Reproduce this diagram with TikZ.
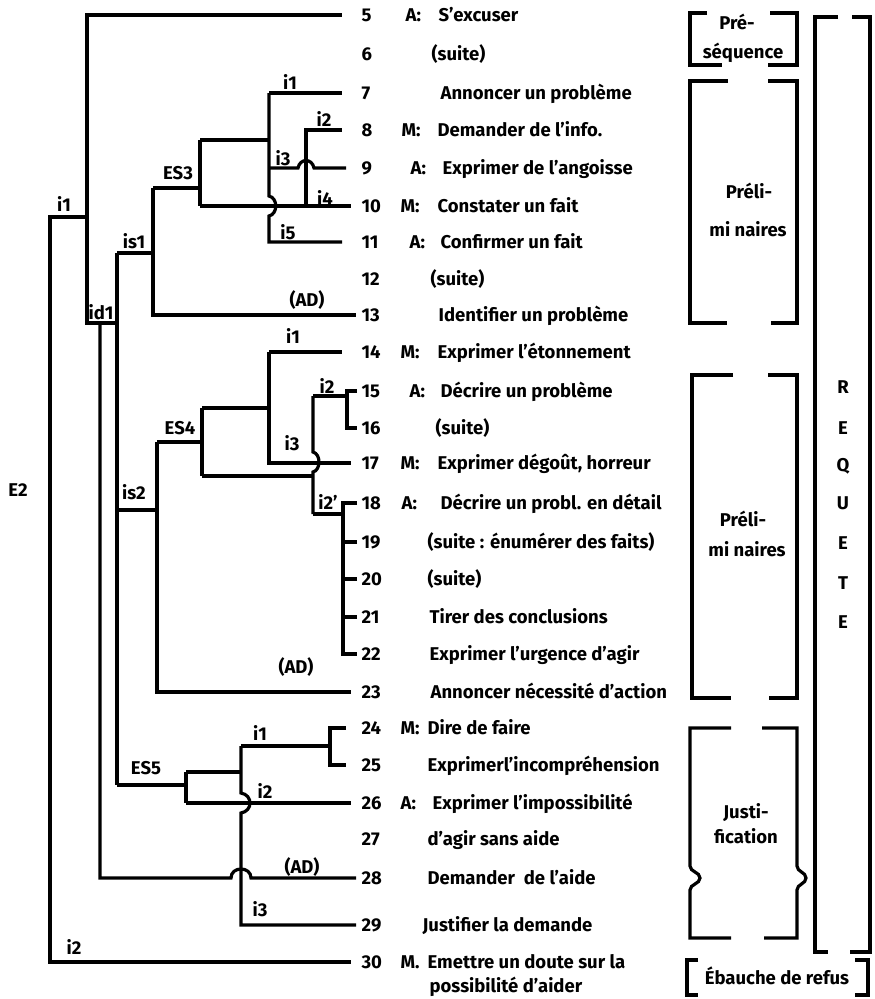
\documentclass[tikz,border=0pt]{standalone}
\usepackage{fontspec}
\setmainfont{Fira Sans}
\usepackage{tikz}

\tikzset{
  txt/.style={anchor=west, inner sep=0pt, text height=12.5pt, text depth=0pt,
    font=\bfseries\fontsize{18.5}{20}\selectfont},
  lab/.style={inner sep=0pt, text height=12.5pt, text depth=0pt,
    font=\bfseries\fontsize{18.5}{20}\selectfont},
  far/.style={shorten >=18pt},
  mid/.style={shorten >=9pt},
  leaf/.style={shorten >=4pt},
  tick/.style={shorten <=3pt, shorten >=3pt},
}

\begin{document}
\begin{tikzpicture}[x=1pt, y=-1pt, line width=3.2pt]
\useasboundingbox (0,0) rectangle (875,999);

% Numeros des tours
\node[txt] (n5) at (360,15) {5};
\node[txt] (n6) at (360,54) {6};
\node[txt] (n7) at (360,93) {7};
\node[txt] (n8) at (360,130) {8};
\node[txt] (n9) at (360,168) {9};
\node[txt] (n10) at (360,206) {10};
\node[txt] (n11) at (360,242) {11};
\node[txt] (n12) at (360,279) {12};
\node[txt] (n13) at (360,315) {13};
\node[txt] (n14) at (360,352) {14};
\node[txt] (n15) at (360,391) {15};
\node[txt] (n16) at (360,428) {16};
\node[txt] (n17) at (360,463) {17};
\node[txt] (n18) at (360,503) {18};
\node[txt] (n19) at (360,542) {19};
\node[txt] (n20) at (360,579) {20};
\node[txt] (n21) at (360,617) {21};
\node[txt] (n22) at (360,654) {22};
\node[txt] (n23) at (360,692) {23};
\node[txt] (n24) at (360,728) {24};
\node[txt] (n25) at (360,765) {25};
\node[txt] (n26) at (360,803) {26};
\node[txt] (n27) at (360,839) {27};
\node[txt] (n28) at (360,878) {28};
\node[txt] (n29) at (360,925) {29};
\node[txt] (n30) at (360,962) {30};

% Locuteurs
\node[txt] (s5) at (404,15) {A:};
\node[txt] (s8) at (400,130) {M:};
\node[txt] (s9) at (409,168) {A:};
\node[txt] (s10) at (399,206) {M:};
\node[txt] (s11) at (408,242) {A:};
\node[txt] (s14) at (399,352) {M:};
\node[txt] (s15) at (408,391) {A:};
\node[txt] (s17) at (399,463) {M:};
\node[txt] (s18) at (400,503) {A:};
\node[txt] (s24) at (399,728) {M:};
\node[txt] (s26) at (399,803) {A:};
\node[txt] (s30) at (399,962) {M.};

% Actes
\node[txt] (t5) at (437,15) {S'excuser};
\node[txt] (t6) at (430,54) {(suite)};
\node[txt] (t7) at (439,93) {Annoncer un problème};
\node[txt] (t8) at (436,130) {Demander de l'info.};
\node[txt] (t9) at (441,168) {Exprimer de l'angoisse};
\node[txt] (t10) at (436,206) {Constater un fait};
\node[txt] (t11) at (439,242) {Confirmer un fait};
\node[txt] (t12) at (429,279) {(suite)};
\node[txt] (t13) at (437,315) {Identifier un problème};
\node[txt] (t14) at (436,352) {Exprimer l'étonnement};
\node[txt] (t15) at (439,391) {Décrire un problème};
\node[txt] (t16) at (434,428) {(suite)};
\node[txt] (t17) at (436,463) {Exprimer dégoût, horreur};
\node[txt] (t18) at (439,503) {Décrire un probl. en détail};
\node[txt] (t19) at (426,542) {(suite : énumérer des faits)};
\node[txt] (t20) at (426,579) {(suite)};
\node[txt] (t21) at (428,617) {Tirer des conclusions};
\node[txt] (t22) at (428,654) {Exprimer l'urgence d'agir};
\node[txt] (t23) at (429,692) {Annoncer nécessité d'action};
\node[txt] (t24) at (426,728) {Dire de faire};
\node[txt] (t25) at (426,765) {Exprimerl'incompréhension};
\node[txt] (t26) at (431,803) {Exprimer l'impossibilité};
\node[txt] (t27) at (426,839) {d'agir sans aide};
\node[txt] (t28) at (426,878) {Demander\ \ de l'aide};
\node[txt] (t29) at (421,925) {Justifier la demande};
\node[txt] (t30) at (426,962) {Emettre un doute sur la};
\node[txt] (t30b) at (428,986) {possibilité d'aider};

% E2
\coordinate (e2) at (50,217);
\coordinate (r1) at (87,217);
\draw[mid] (r1) -- (e2) |- (n30);

% i1 / id1
\coordinate (id1) at (87,323);
\coordinate (d1) at (117,323);
\coordinate (d2) at (100,323);
\draw[far] (d1) -- (id1) |- (n5);
\coordinate (is1) at (117,253);
\coordinate (is2) at (117,510);
\coordinate (es5) at (117,785);
\draw (is1) -- (es5);
\draw[leaf] (d2) |- (231,878) .. controls (231,866) and (251,866) .. (251,878) -- (n28);

% is1 / ES3
\coordinate (k1) at (153,253);
\coordinate (k2) at (153,188);
\coordinate (es3) at (200,188);
\draw (is1) -- (k1);
\draw[leaf] (k2) |- (n13);
\draw (k2) -- (es3);
\coordinate (e3t) at (200,140);
\coordinate (e3b) at (200,206);
\draw (e3t) -- (e3b);
\draw[mid] (e3b) -- (n10);
\coordinate (g3) at (269,93);
\coordinate (g3m) at (269,168);
\draw (e3t) -- (e3t -| g3);
\draw[far] (g3) -- (n7);
\draw[far] (g3) -- (269,196) .. controls (278,198) and (278,214) .. (269,216) |- (n11);
\draw[shorten >=14pt] (g3m) -- (298,168) .. controls (300,158) and (312,158) .. (314,168) -- (n9);
\coordinate (h3) at (306,206);
\draw[far] (h3) |- (n8);

% is2 / ES4
\coordinate (k4) at (157,510);
\coordinate (k5) at (157,442);
\coordinate (es4) at (202,442);
\draw (is2) -- (k4);
\draw[mid] (k5) |- (n23);
\draw (k5) -- (es4);
\coordinate (e4t) at (202,408);
\coordinate (e4b) at (202,476);
\coordinate (g4) at (269,352);
\draw (e4t) -- (e4b);
\draw (e4t) -- (e4t -| g4);
\draw[far] (g4) -- (n14);
\draw[mid] (g4) |- (n17);
\coordinate (h4) at (313,396);
\coordinate (h4b) at (313,514);
\draw (e4b) -- (e4b -| h4);
\draw (h4) -- (313,452) .. controls (321,454) and (321,470) .. (313,472) -- (h4b);
\coordinate (b15) at (347,391);
\coordinate (b16) at (347,428);
\draw[tick] (n15) -- (b15) -- (b16) -- (n16);
\draw (h4) -- (h4 -| b15);
\coordinate (b18) at (343,503);
\coordinate (b22) at (343,654);
\draw[tick] (n18) -- (b18) -- (b22) -- (n22);
\draw[shorten <=3pt] (n19) -- (n19 -| b18);
\draw[shorten <=3pt] (n20) -- (n20 -| b18);
\draw[shorten <=3pt] (n21) -- (n21 -| b18);
\draw (h4b) -- (h4b -| b18);

% ES5
\coordinate (k6) at (186,785);
\coordinate (e5t) at (186,772);
\coordinate (e5b) at (186,803);
\coordinate (g5) at (241,746);
\draw (es5) -- (k6);
\draw (e5t) -- (e5b);
\draw[mid] (e5b) -- (n26);
\draw (e5t) -- (e5t -| g5);
\draw[leaf] (g5) -- (241,793) .. controls (253,795) and (253,811) .. (241,813) |- (n29);
\coordinate (b24) at (330,728);
\coordinate (b25) at (330,765);
\draw[shorten <=14pt, shorten >=14pt] (n24) -- (b24) -- (b25) -- (n25);
\draw (g5) -- (g5 -| b24);

% Etiquettes de l'arbre
\node[lab] (lE2) at (18,490) {E2};
\node[lab] (li1) at (64,205) {i1};
\node[lab] (li2) at (74,948) {i2};
\node[lab] (lid1) at (101,313) {id1};
\node[lab] (lis1) at (134,242) {is1};
\node[lab] (lis2) at (134,493) {is2};
\node[lab] (lES3) at (178,173) {ES3};
\node[lab] (lES4) at (180,428) {ES4};
\node[lab] (lES5) at (146,768) {ES5};
\node[lab] (lAD1) at (307,300) {(AD)};
\node[lab] (lAD2) at (296,667) {(AD)};
\node[lab] (lAD3) at (302,867) {(AD)};
\node[lab] (l3i1) at (290,83) {i1};
\node[lab] (l3i2) at (324,120) {i2};
\node[lab] (l3i3) at (283,159) {i3};
\node[lab] (l3i4) at (325,199) {i4};
\node[lab] (l3i5) at (288,233) {i5};
\node[lab] (l4i1) at (293,337) {i1};
\node[lab] (l4i2) at (327,387) {i2};
\node[lab] (l4i3) at (292,444) {i3};
\node[lab] (l4i2b) at (328,503) {i2'};
\node[lab] (l5i1) at (260,734) {i1};
\node[lab] (l5i2) at (265,792) {i2};
\node[lab] (l5i3) at (260,910) {i3};

% Crochets de droite
\draw (707,13) -- (690,13) -- (690,65) -- (722,65);
\draw (770,13) -- (797,13) -- (797,65) -- (768,65);
\node[lab] (pre1) at (737,23) {Pré-};
\node[lab] (pre2) at (743,52) {séquence};

\draw (728,81) -- (690,81) -- (690,323) -- (727,323);
\draw (768,81) -- (797,81) -- (797,323) -- (771,323);
\node[lab] (pr1a) at (749,192) {Préli-};
\node[lab] (pr1b) at (748,230) {mi naires};

\draw (733,375) -- (692,375) -- (692,698) -- (731,698);
\draw (768,375) -- (797,375) -- (797,698) -- (769,698);
\node[lab] (pr2a) at (743,520) {Préli-};
\node[lab] (pr2b) at (747,550) {mi naires};

\draw (731,728) -- (690,728) -- (690,866) .. controls (690,872) and (700,872) .. (700,878)
  .. controls (700,884) and (690,884) .. (690,890) -- (690,938) -- (731,938);
\draw (762,728) -- (797,728) -- (797,866) .. controls (797,872) and (806,872) .. (806,878)
  .. controls (806,884) and (797,884) .. (797,890) -- (797,938) -- (764,938);
\node[lab] (ju1) at (746,812) {Justi-};
\node[lab] (ju2) at (746,837) {fication};

\draw (838,17) -- (815,17) -- (815,952) -- (828,952);
\draw (852,17) -- (870,17) -- (870,952) -- (850,952);
\node[lab] (q1) at (843,387) {R};
\node[lab] (q2) at (843,428) {E};
\node[lab] (q3) at (843,465) {Q};
\node[lab] (q4) at (843,503) {U};
\node[lab] (q5) at (843,543) {E};
\node[lab] (q6) at (843,583) {T};
\node[lab] (q7) at (843,622) {E};

\draw (698,960) -- (687,960) -- (687,995) -- (698,995);
\draw (855,960) -- (868,960) -- (868,995) -- (855,995);
\node[lab] (ebr) at (777,978) {Ébauche de refus};
\end{tikzpicture}
\end{document}
